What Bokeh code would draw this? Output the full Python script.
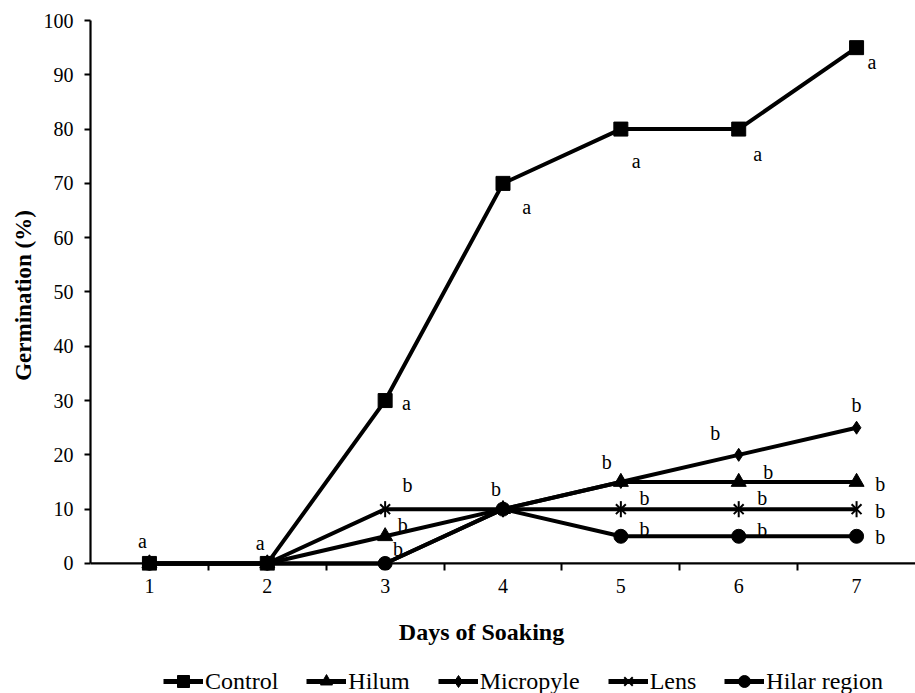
import math
from bokeh.plotting import figure
from bokeh.layouts import column
from bokeh.models import Range1d, FixedTicker, Legend, LegendItem, Span, Label
from bokeh.core.properties import value
from bokeh.embed import file_html
from bokeh.resources import INLINE

days = [1, 2, 3, 4, 5, 6, 7]
control = [0, 0, 30, 70, 80, 80, 95]
hilum = [0, 0, 5, 10, 15, 15, 15]
micropyle = [0, 0, 0, 10, 15, 20, 25]
lens = [0, 0, 10, 10, 10, 10, 10]
hilar = [0, 0, 0, 10, 5, 5, 5]
y_ticks = [0, 10, 20, 30, 40, 50, 60, 70, 80, 90, 100]
series_names = ["Control", "Hilum", "Micropyle", "Lens", "Hilar region"]
x_title = "Days of Soaking"
y_title = "Germination (%)"

letter_text = ["a", "a",
               "a", "b", "b", "b",
               "a", "b",
               "a", "b", "b", "b",
               "a", "b", "b", "b", "b",
               "a", "b", "b", "b", "b"]
letter_x = [0.94, 1.94,
            3.18, 3.19, 3.15, 3.11,
            4.20, 3.94,
            5.13, 4.88, 5.20, 5.20,
            6.16, 5.80, 6.25, 6.20, 6.20,
            7.13, 7.00, 7.20, 7.20, 7.20]
letter_y = [4.1, 3.7,
            29.6, 14.5, 7.0, 2.6,
            65.7, 13.8,
            74.2, 18.6, 12.0, 6.4,
            75.5, 24.0, 16.8, 12.0, 6.1,
            92.3, 29.1, 14.7, 9.6, 4.8]

FONT = "Liberation Serif"
LW = 4

# ---------------- main plot ----------------
p = figure(width=915, height=610, x_range=Range1d(0.5, 7.5), y_range=Range1d(-1.3, 100),
           output_backend="svg", toolbar_location=None,
           min_border_left=90, min_border_right=0, min_border_top=20, min_border_bottom=40)
p.outline_line_color = None
p.xgrid.visible = False
p.ygrid.visible = False

p.yaxis.ticker = FixedTicker(ticks=y_ticks)
p.yaxis.bounds = (0, 100)
p.yaxis.axis_line_width = 2.2
p.yaxis.major_tick_line_width = 2
p.yaxis.major_tick_in = 0
p.yaxis.major_tick_out = 6
p.yaxis.minor_tick_line_color = None
p.yaxis.major_label_standoff = 11
p.yaxis.major_label_text_font = FONT
p.yaxis.major_label_text_font_size = "20px"
p.yaxis.major_label_text_color = "black"
p.yaxis.axis_label = y_title
p.yaxis.axis_label_text_font = FONT
p.yaxis.axis_label_text_font_style = "bold"
p.yaxis.axis_label_text_font_size = "23px"
p.yaxis.axis_label_text_color = "black"
p.yaxis.axis_label_standoff = 5

p.xaxis.ticker = FixedTicker(ticks=days, minor_ticks=[1.5, 2.5, 3.5, 4.5, 5.5, 6.5])
p.xaxis.axis_line_color = None
p.xaxis.major_tick_line_color = None
p.xaxis.major_tick_in = 0
p.xaxis.major_tick_out = 0
p.xaxis.minor_tick_line_width = 2
p.xaxis.minor_tick_in = 7
p.xaxis.minor_tick_out = 0
p.xaxis.major_label_standoff = 8
p.xaxis.major_label_text_font = FONT
p.xaxis.major_label_text_font_size = "20px"
p.xaxis.major_label_text_color = "black"

p.add_layout(Span(location=0, dimension="width", line_color="black", line_width=2.2))

p.line(days, control, line_width=LW, color="black")
p.scatter(days, control, marker="square", size=14, color="black")
p.line(days, hilum, line_width=LW, color="black")
p.scatter(days, hilum, marker="triangle", size=15, color="black")
p.line(days, micropyle, line_width=LW, color="black")
p.scatter(days, micropyle, marker="diamond", size=13, color="black")
p.line(days, lens, line_width=LW, color="black")
p.scatter(days, lens, marker="x", size=14, line_width=2, color="black")
p.scatter(days, lens, marker="dash", size=16, angle=math.pi / 2, line_width=2, color="black")
p.line(days, hilar, line_width=LW, color="black")
p.scatter(days, hilar, marker="circle", size=14, color="black")

p.text(letter_x, letter_y, text=letter_text, text_font=value(FONT), text_font_size="20px",
       text_align="center", text_baseline="middle", text_color="black")

# ---------------- bottom strip: x title + legend ----------------
q = figure(width=915, height=83, x_range=Range1d(90, 915), y_range=Range1d(0, 83),
           output_backend="svg", toolbar_location=None, x_axis_type=None, y_axis_type=None,
           min_border_left=90, min_border_right=0, min_border_top=0, min_border_bottom=0)
q.outline_line_color = None
q.xgrid.visible = False
q.ygrid.visible = False

q.add_layout(Label(x=481, y=62, text=x_title, text_font=FONT, text_font_style="bold",
                   text_font_size="24px", text_align="center", text_baseline="middle",
                   text_color="black"))

off = [-1000]
items = []
markers = ["square", "triangle", "diamond", None, "circle"]
for name, mk in zip(series_names, markers):
    rs = [q.line(x=off, y=off, line_width=5, color="black")]
    if mk is None:
        rs.append(q.scatter(x=off, y=off, marker="x", size=14, line_width=2, color="black"))
        rs.append(q.scatter(x=off, y=off, marker="dash", size=14, angle=math.pi / 2,
                            line_width=2, color="black"))
    else:
        rs.append(q.scatter(x=off, y=off, marker=mk, size=14, color="black"))
    items.append(LegendItem(label=name, renderers=rs))

legend = Legend(items=items, orientation="horizontal", location=(73, -3),
                label_text_font=FONT, label_text_font_size="24px", label_text_color="black",
                glyph_width=40, glyph_height=30, spacing=28, label_standoff=2,
                border_line_color=None, background_fill_alpha=0, padding=0, margin=0)
q.add_layout(legend, "center")

layout = column(p, q, spacing=0)
open("out.html", "w").write(file_html(layout, INLINE))
